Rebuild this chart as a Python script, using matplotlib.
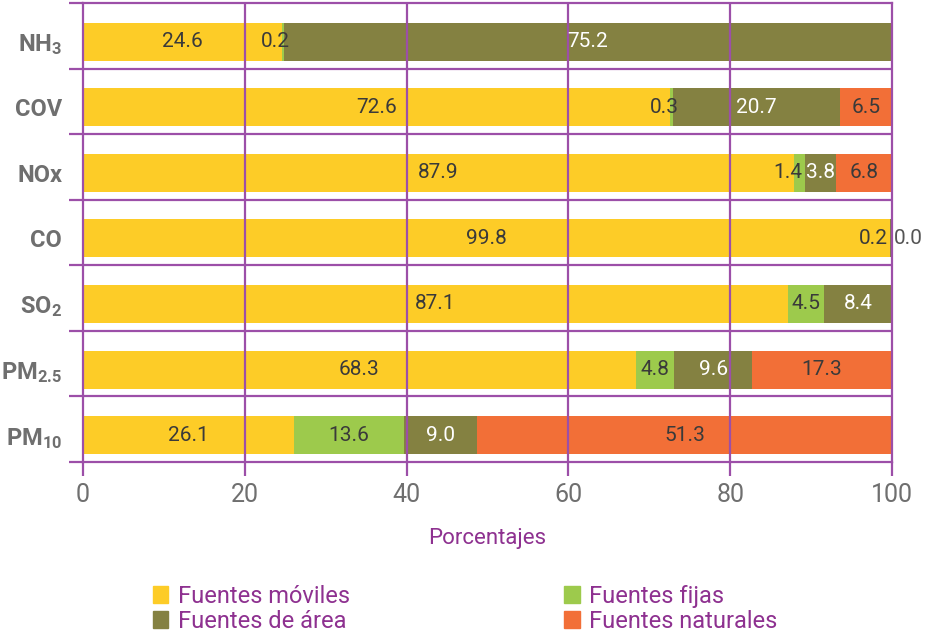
import numpy as np
import matplotlib
matplotlib.use("Agg")
import matplotlib.pyplot as plt
from matplotlib.patches import Patch

# Emission share by source type (percent)
contaminantes = ["NH$_3$", "COV", "NOx", "CO", "SO$_2$", "PM$_{2.5}$", "PM$_{10}$"]
fuentes_moviles = [24.6, 72.6, 87.9, 99.8, 87.1, 68.3, 26.1]
fuentes_fijas = [0.2, 0.3, 1.4, np.nan, 4.5, 4.8, 13.6]
fuentes_area = [75.2, 20.7, 3.8, 0.2, 8.4, 9.6, 9.0]
fuentes_naturales = [np.nan, 6.5, 6.8, 0.0, np.nan, 17.3, 51.3]

series_names = ["Fuentes móviles", "Fuentes fijas", "Fuentes de área", "Fuentes naturales"]
x_ticks = [0, 20, 40, 60, 80, 100]
x_label = "Porcentajes"

colors = ["#FDCC27", "#9DCA4C", "#848141", "#F26F37"]
dark = "#3a3a3a"
text_on = [dark, dark, "#ffffff", dark]
purple_line = "#9C4FA8"
purple_text = "#8E3190"
gray_text = "#6f6f6f"

plt.rcParams["font.family"] = ["Roboto", "DejaVu Sans"]
plt.rcParams["mathtext.fontset"] = "custom"
plt.rcParams["mathtext.rm"] = "Roboto:bold"
plt.rcParams["mathtext.it"] = "Roboto:bold"
plt.rcParams["mathtext.bf"] = "Roboto:bold"

fig = plt.figure(figsize=(9.30, 6.34), dpi=100)
ax = fig.add_axes([83 / 930, 1 - 462 / 634, (892 - 83) / 930, (462 - 3) / 634])

series = [fuentes_moviles, fuentes_fijas, fuentes_area, fuentes_naturales]
n = len(contaminantes)
rows = np.arange(n)
bar_pos = rows + 0.09
bar_h = 0.58
VAL_FS = 15

left = np.zeros(n)
for k, vals in enumerate(series):
    v = np.nan_to_num(np.array(vals, dtype=float))
    ax.barh(bar_pos, v, left=left, height=bar_h, color=colors[k], linewidth=0, zorder=2)
    for i in range(n):
        val = vals[i]
        if np.isnan(val):
            continue
        txt = f"{val:.1f}"
        if val == 0:
            ax.text(100.2, bar_pos[i], txt, ha="left", va="center", fontsize=VAL_FS,
                    color="#555555", zorder=4, clip_on=False)
        elif val < 2:
            ax.text(min(left[i] + 1.0, 99.5), bar_pos[i], txt, ha="right", va="center",
                    fontsize=VAL_FS, color=dark, zorder=4)
        else:
            ax.text(left[i] + val / 2, bar_pos[i], txt, ha="center", va="center",
                    fontsize=VAL_FS, color=text_on[k], zorder=4)
    left = left + v

ax.set_xlim(0, 100)
ax.set_ylim(n - 0.5, -0.5)

# Purple grid: vertical at x ticks, horizontal row separators
ax.set_xticks(x_ticks)
ax.set_xticklabels([str(t) for t in x_ticks], fontsize=18, color=gray_text)
ax.tick_params(axis="x", direction="out", length=10, width=1.6, color=purple_line, pad=5)
for t in x_ticks[1:-1]:
    ax.axvline(t, color=purple_line, lw=1.6, zorder=3)
ax.set_yticks(bar_pos)
ax.set_yticklabels(contaminantes, fontsize=17, color=gray_text, fontweight="bold")
ax.tick_params(axis="y", length=0, pad=15)
ax.set_yticks(np.arange(n + 1) - 0.5, minor=True)
ax.tick_params(axis="y", which="minor", direction="out", length=10, width=1.6, color=purple_line)
for b in np.arange(1, n) - 0.5:
    ax.axhline(b, color=purple_line, lw=1.6, zorder=3)
for s in ax.spines.values():
    s.set_color(purple_line)
    s.set_linewidth(1.6)
    s.set_zorder(3)

ax.set_xlabel(x_label, fontsize=16, color=purple_text, labelpad=15)

handles = [Patch(color=colors[0], label=series_names[0]),
           Patch(color=colors[2], label=series_names[2]),
           Patch(color=colors[1], label=series_names[1]),
           Patch(color=colors[3], label=series_names[3])]
leg = fig.legend(handles=handles, ncol=2, loc="center left",
                 bbox_to_anchor=(141 / 930, 1 - 609 / 634), frameon=False,
                 fontsize=17, handlelength=0.65, handleheight=0.75, handletextpad=0.4,
                 columnspacing=9.1, labelspacing=0.08, borderpad=0)
for t in leg.get_texts():
    t.set_color(purple_text)

fig.savefig("out.png", dpi=100)
